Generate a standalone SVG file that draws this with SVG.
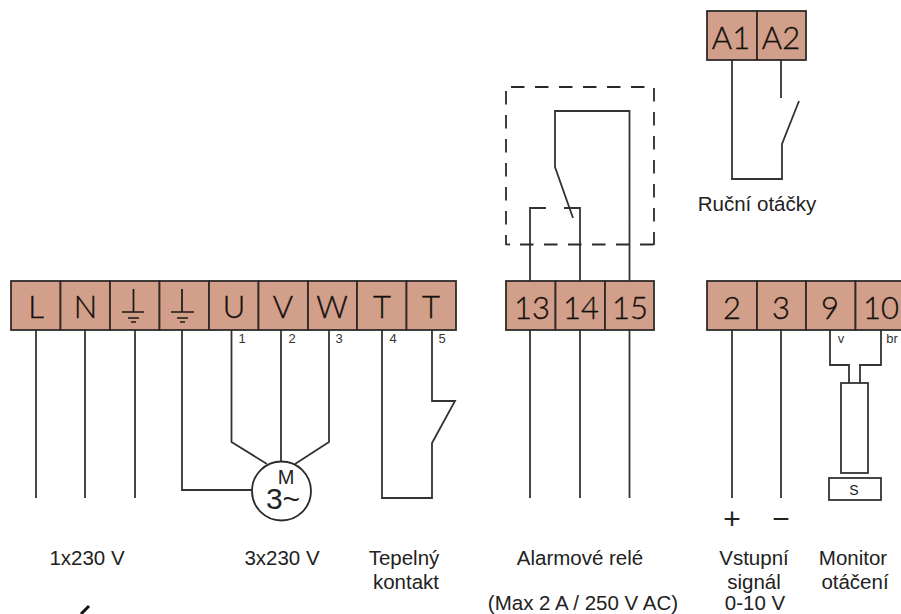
<svg xmlns="http://www.w3.org/2000/svg" width="901" height="614" viewBox="0 0 901 614">
<style>
.t{fill:#d2a08a;stroke:#2f2b2a;stroke-width:1.8}
.k{font-family:"Lato","Liberation Sans",sans-serif;font-size:31px;fill:#14100e;stroke:#14100e;stroke-width:.35;text-anchor:middle;font-weight:300}
.w{fill:none;stroke:#333;stroke-width:1.8}
.d{fill:none;stroke:#2a2a2a;stroke-width:1.8;stroke-dasharray:13.5 10.5}
.l{font-family:"Liberation Sans",Arial,sans-serif;font-size:20.5px;fill:#222;text-anchor:middle}
.n{font-family:"Liberation Sans",Arial,sans-serif;font-size:13px;fill:#333;text-anchor:middle}
.g{fill:none;stroke:#1c1715;stroke-width:1.7}
.m{font-family:"Liberation Sans",Arial,sans-serif;fill:#222;text-anchor:middle}
</style>
<rect width="901" height="614" fill="#fff"/>
<g id="connectors" class="w">
<path d="M36 330V498M85 330V498M135 330V498"/>
<path d="M182 330V490H253"/>
<path d="M231.500 330V442L267 464M281 330V462M329 330V442L295 464"/>
<path d="M382 330V498H432V443L455 401H432V330"/>
<path d="M530 330V498M580 330V498M629.500 330V498"/>
<path d="M732 330V498M781 330V498"/>
<path d="M830 330V365H849V383M881 330V365H860V383"/>
<path d="M530 281V208H546M564 208H580V281M629.500 281V111H555V167L573 218"/>
<path d="M732 60V179H782V144L799 101M781 60V98"/>
</g>
<g id="relay-box">
<path class="d" d="M511 87H654"/><path class="d" d="M654 88V245"/><path class="d" d="M520 244.500H654"/><path class="d" d="M506 91V245"/><path class="w" d="M506 244.500H510"/>
</g>
<g id="term-L"><rect class="t" x="11" y="281" width="49.500" height="49"/><text class="k" x="36" y="318">L</text></g>
<g id="term-N"><rect class="t" x="60.500" y="281" width="49.500" height="49"/><text class="k" x="85.500" y="318">N</text></g>
<g id="term-PE1"><rect class="t" x="110" y="281" width="49.500" height="49"/><path class="g" d="M133.500 289V312M122 312H144M128 318H139M131 322H136"/></g>
<g id="term-PE2"><rect class="t" x="159.500" y="281" width="49.500" height="49"/><path class="g" d="M182 289V312M171 312H194M177 318H188M180 322H185"/></g>
<g id="term-U"><rect class="t" x="209" y="281" width="49.500" height="49"/><text class="k" x="234" y="318">U</text></g>
<g id="term-V"><rect class="t" x="258.500" y="281" width="49.500" height="49"/><text class="k" x="283" y="318">V</text></g>
<g id="term-W"><rect class="t" x="308" y="281" width="49" height="49"/><text class="k" x="332" y="318">W</text></g>
<g id="term-T4"><rect class="t" x="357" y="281" width="49.500" height="49"/><text class="k" x="382" y="318">T</text></g>
<g id="term-T5"><rect class="t" x="406.500" y="281" width="49.500" height="49"/><text class="k" x="431" y="318">T</text></g>
<g id="term-13"><rect class="t" x="506" y="281" width="49.500" height="49"/><text class="k" x="532" y="319">13</text></g>
<g id="term-14"><rect class="t" x="555.500" y="281" width="49.500" height="49"/><text class="k" x="581" y="319">14</text></g>
<g id="term-15"><rect class="t" x="605" y="281" width="49" height="49"/><text class="k" x="630" y="319">15</text></g>
<g id="term-2"><rect class="t" x="707" y="281" width="50" height="49"/><text class="k" x="732" y="319">2</text></g>
<g id="term-3"><rect class="t" x="757" y="281" width="49" height="49"/><text class="k" x="781" y="319">3</text></g>
<g id="term-9"><rect class="t" x="806" y="281" width="49.500" height="49"/><text class="k" x="830" y="319">9</text></g>
<g id="term-10"><rect class="t" x="855.500" y="281" width="60" height="49"/><text class="k" x="881" y="319">10</text></g>
<g id="term-A1"><rect class="t" x="707" y="11" width="50" height="49"/><text class="k" x="731" y="49">A1</text></g>
<g id="term-A2"><rect class="t" x="757" y="11" width="49" height="49"/><text class="k" x="781" y="49">A2</text></g>
<g id="motor"><circle cx="281.500" cy="491" r="29.500" fill="#fff" stroke="#2a2a2a" stroke-width="1.800"/>
<text class="m" x="286" y="484" font-size="20">M</text>
<text class="m" x="283" y="509" font-size="30">3~</text></g>
<g id="sensor"><rect x="841" y="383" width="27" height="90" fill="#fff" stroke="#333" stroke-width="1.800"/><rect x="829" y="478" width="52" height="22" fill="#fff" stroke="#333" stroke-width="1.800"/><text class="m" x="854" y="495" font-size="14">S</text></g>
<g id="wire-labels">
<text class="n" x="242" y="343">1</text><text class="n" x="292" y="343">2</text><text class="n" x="339" y="343">3</text><text class="n" x="393" y="343">4</text><text class="n" x="442" y="343">5</text>
<text class="n" x="841" y="343">v</text><text class="n" x="892" y="343">br</text>
</g>
<g id="labels">
<text class="m" x="732" y="529" font-size="30">+</text>
<text class="m" x="781" y="529" font-size="30">−</text>
<text class="l" x="87" y="565">1x230 V</text>
<text class="l" x="282" y="565">3x230 V</text>
<text class="l" x="404" y="565">Tepelný</text><text class="l" x="406" y="589">kontakt</text>
<text class="l" x="580" y="565">Alarmové relé</text>
<text class="l" x="583" y="609.500">(Max 2 A / 250 V AC)</text>
<text class="l" x="754" y="565">Vstupní</text><text class="l" x="754" y="589">signál</text><text class="l" x="755" y="609.500">0-10 V</text>
<text class="l" x="853" y="565">Monitor</text><text class="l" x="855" y="589">otáčení</text>
<text class="l" x="757" y="211">Ruční otáčky</text>
</g>
<path id="stray-mark" d="M81 614L89 606" stroke="#111" stroke-width="3" fill="none"/>
</svg>
